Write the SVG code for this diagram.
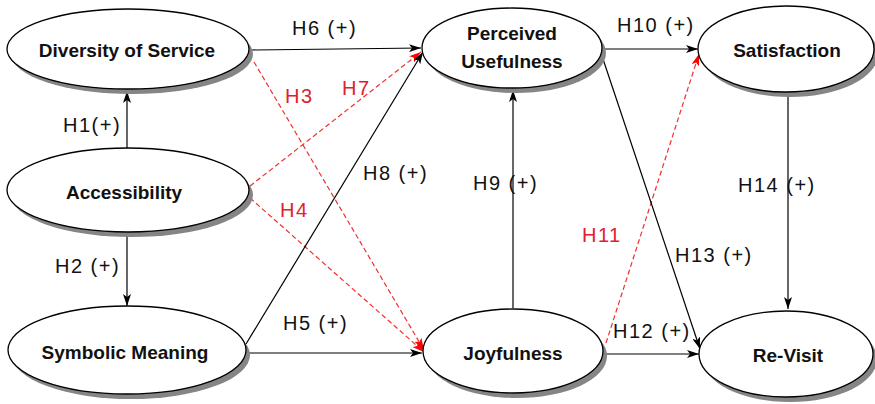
<svg xmlns="http://www.w3.org/2000/svg" width="875" height="404" viewBox="0 0 875 404">
<defs>
<style>
.sh{fill:#858585;stroke:none}
.el{fill:#fff;stroke:#000;stroke-width:1.3}
.nt{font-family:"Liberation Sans",Arial,sans-serif;font-weight:bold;font-size:19px;fill:#111;text-anchor:middle}
.lb{font-family:"Liberation Sans",Arial,sans-serif;font-size:20px;fill:#111;letter-spacing:1.5px}
.rl{font-family:"Liberation Sans",Arial,sans-serif;font-size:20px;fill:#e0202a;letter-spacing:1.5px}
.bk{stroke:#000;stroke-width:1.2;fill:none;marker-end:url(#ab)}
.rd{stroke:#f03030;stroke-width:1.2;fill:none;stroke-dasharray:5 3;marker-end:url(#ar)}
</style>
<marker id="ab" viewBox="0 0 12 8" refX="12" refY="4" markerWidth="12" markerHeight="8" orient="auto" markerUnits="userSpaceOnUse"><path d="M0,0 L12,4 L0,8 L3,4 z" fill="#000"/></marker>
<marker id="ar" viewBox="0 0 12 8" refX="12" refY="4" markerWidth="12" markerHeight="8" orient="auto" markerUnits="userSpaceOnUse"><path d="M0,0 L12,4 L0,8 L3,4 z" fill="#f00"/></marker>
</defs>
<rect width="875" height="404" fill="#fff"/>
<g id="connectors">
<line class="bk" x1="252" y1="50" x2="421" y2="48"/>
<line class="bk" x1="127" y1="149" x2="127" y2="91"/>
<line class="bk" x1="127" y1="233" x2="127" y2="306"/>
<line class="rd" x1="254" y1="62" x2="424" y2="350"/>
<line class="rd" x1="250" y1="186" x2="421" y2="52"/>
<line class="rd" x1="250" y1="198" x2="424" y2="352"/>
<line class="bk" x1="246" y1="344" x2="423" y2="52"/>
<line class="bk" x1="247" y1="353" x2="422" y2="353"/>
<line class="bk" x1="513" y1="308" x2="513" y2="90"/>
<line class="bk" x1="603" y1="49" x2="698" y2="49"/>
<line class="rd" x1="606" y1="343" x2="699" y2="54"/>
<line class="bk" x1="603" y1="59" x2="700" y2="349"/>
<line class="bk" x1="606" y1="354" x2="699" y2="354"/>
<line class="bk" x1="788" y1="93" x2="788" y2="309"/>
<text class="lb" x="292" y="35">H6 (+)</text>
<text class="rl" x="285" y="103">H3</text>
<text class="rl" x="342" y="95">H7</text>
<text class="lb" x="63" y="132">H1(+)</text>
<text class="lb" x="363" y="180">H8 (+)</text>
<text class="rl" x="280" y="217">H4</text>
<text class="lb" x="55" y="273">H2 (+)</text>
<text class="lb" x="283" y="330">H5 (+)</text>
<text class="lb" x="617" y="32">H10 (+)</text>
<text class="lb" x="473" y="190">H9 (+)</text>
<text class="lb" x="738" y="192">H14 (+)</text>
<text class="rl" x="582" y="242">H11</text>
<text class="lb" x="675" y="262">H13 (+)</text>
<text class="lb" x="613" y="338">H12 (+)</text>
</g>
<g id="diversity">
<ellipse class="sh" cx="132" cy="54" rx="121" ry="40"/>
<ellipse class="el" cx="128" cy="49" rx="121" ry="40"/>
<text class="nt" x="127" y="57">Diversity of Service</text>
</g>
<g id="accessibility">
<ellipse class="sh" cx="132" cy="195" rx="121" ry="42"/>
<ellipse class="el" cx="128" cy="190" rx="121" ry="42"/>
<text class="nt" x="124" y="199">Accessibility</text>
</g>
<g id="symbolic">
<ellipse class="sh" cx="131" cy="355" rx="119" ry="44"/>
<ellipse class="el" cx="127" cy="350" rx="119" ry="44"/>
<text class="nt" x="125" y="359">Symbolic Meaning</text>
</g>
<g id="perceived">
<ellipse class="sh" cx="516" cy="53" rx="90" ry="40"/>
<ellipse class="el" cx="512" cy="48" rx="90" ry="40"/>
<text class="nt" x="512" y="40">Perceived</text>
<text class="nt" x="512" y="68">Usefulness</text>
</g>
<g id="satisfaction">
<ellipse class="sh" cx="790" cy="54" rx="88" ry="43"/>
<ellipse class="el" cx="786" cy="49" rx="88" ry="43"/>
<text class="nt" x="787" y="57">Satisfaction</text>
</g>
<g id="joyfulness">
<ellipse class="sh" cx="517" cy="356" rx="90" ry="42"/>
<ellipse class="el" cx="513" cy="351" rx="90" ry="42"/>
<text class="nt" x="513" y="360">Joyfulness</text>
</g>
<g id="revisit">
<ellipse class="sh" cx="790" cy="359" rx="87" ry="43"/>
<ellipse class="el" cx="786" cy="354" rx="87" ry="43"/>
<text class="nt" x="788" y="362">Re-Visit</text>
</g>
</svg>
